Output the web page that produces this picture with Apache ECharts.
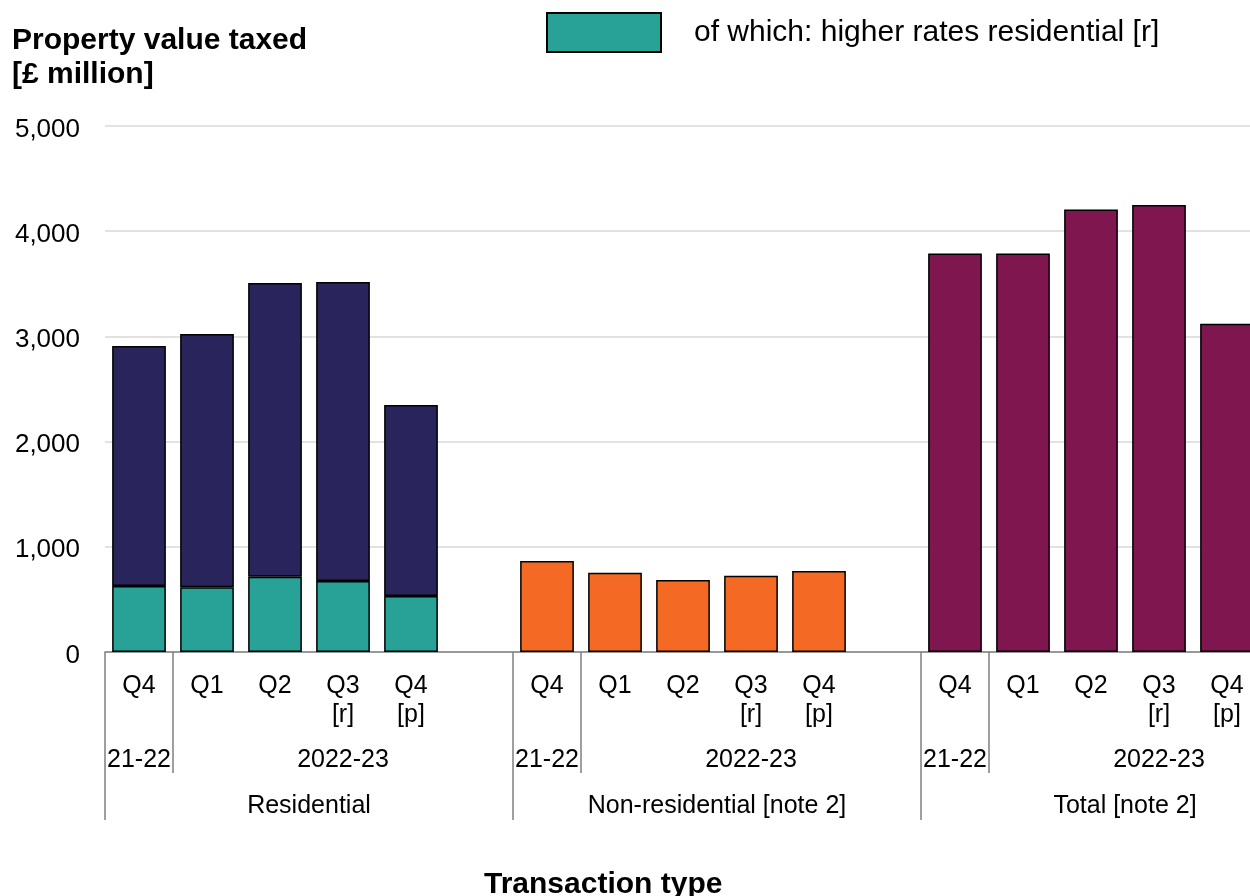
<!DOCTYPE html>
<html><head><meta charset="utf-8">
<script src="https://cdn.jsdelivr.net/npm/echarts@6/dist/echarts.min.js"></script>
<style>html,body{margin:0;padding:0;background:#fff}#c{width:1250px;height:896px}</style></head>
<body><div id="c"></div>
<script>
const quarterLabels = ['Q4', 'Q1', 'Q2', 'Q3\n[r]', 'Q4\n[p]', ''];
const groupNames = ['Residential', 'Non-residential [note 2]', 'Total [note 2]'];
const yearLabels = ['21-22', '2022-23'];
const residentialTotal = [2909, 3023, 3508, 3517, 2348];
const higherRates = [627, 615, 716, 675, 532];
const nonResidential = [865, 754, 684, 725, 770];
const totalValue = [3788, 3788, 4206, 4249, 3121];
const yMax = 5000;
const yStep = 1000;

const FONT = '"Liberation Sans", Arial, sans-serif';
const nGroups = groupNames.length;
const slotsPerGroup = quarterLabels.length;
const nSlots = nGroups * slotsPerGroup;

const categories = [];
for (let g = 0; g < nGroups; g++) quarterLabels.forEach(q => categories.push(q));

const yearCats = new Array(nSlots).fill('');
for (let g = 0; g < nGroups; g++) {
  yearCats[g * slotsPerGroup] = yearLabels[0];
  yearCats[g * slotsPerGroup + 3] = yearLabels[1];
}
const groupCats = new Array(nSlots + 1).fill('');
for (let g = 0; g < nGroups; g++) groupCats[g * slotsPerGroup + 3] = groupNames[g];

function place(values, g) {
  const out = new Array(nSlots).fill('-');
  values.forEach((v, i) => { out[g * slotsPerGroup + i] = v; });
  return out;
}
const restResidential = residentialTotal.map((v, i) => v - higherRates[i]);

const border = { borderColor: '#000', borderWidth: 1.5 };
const gray = '#808080';

const chart = echarts.init(document.getElementById('c'), null, { renderer: 'canvas' });
chart.setOption({
  animation: false,
  textStyle: { fontFamily: FONT },
  title: [
    { text: 'Property value taxed\n[£ million]', left: 12, top: 24, padding: 0,
      textStyle: { fontFamily: FONT, fontSize: 30, fontWeight: 'bold', color: '#000', lineHeight: 34 } },
    { text: 'Transaction type', left: 484, top: 870, padding: 0,
      textStyle: { fontFamily: FONT, fontSize: 30, fontWeight: 'bold', color: '#000' } }
  ],
  legend: {
    left: 546, top: 12, padding: 0, itemWidth: 114, itemHeight: 39, icon: 'rect',
    data: ['of which: higher rates residential [r]'],
    textStyle: { fontFamily: FONT, fontSize: 30, color: '#000', padding: [0, 0, 0, 28] }
  },
  grid: { left: 105, top: 126, bottom: 244, right: -79, outerBoundsMode: 'none', containLabel: false },
  xAxis: [
    { type: 'category', data: categories, position: 'bottom',
      axisLine: { lineStyle: { color: gray, width: 1.5 } },
      axisTick: { show: false },
      axisLabel: { interval: 0, fontSize: 25, lineHeight: 29, margin: 20, color: '#000', fontFamily: FONT } },
    { type: 'category', data: yearCats, position: 'bottom',
      axisLine: { show: false },
      axisTick: { show: true, length: 121, interval: (i) => i % slotsPerGroup === 1, lineStyle: { color: gray, width: 1.5 } },
      axisLabel: { interval: 0, fontSize: 25, margin: 96, color: '#000', fontFamily: FONT } },
    { type: 'category', data: groupCats, position: 'bottom', boundaryGap: false,
      axisLine: { show: false },
      axisTick: { show: true, length: 168, interval: (i) => i % slotsPerGroup === 0, lineStyle: { color: gray, width: 1.5 } },
      axisLabel: { interval: 0, fontSize: 25, margin: 142, color: '#000', fontFamily: FONT } }
  ],
  yAxis: {
    type: 'value', min: 0, max: yMax, interval: yStep,
    axisLine: { show: false }, axisTick: { show: false },
    splitLine: { lineStyle: { color: '#d9d9d9', width: 1.5 } },
    axisLabel: { fontSize: 26, margin: 25, color: '#000', fontFamily: FONT, verticalAlign: 'top', lineHeight: 7,
      formatter: v => v.toLocaleString('en-GB') }
  },
  series: [
    { name: 'of which: higher rates residential [r]', type: 'bar', stack: 'res', xAxisIndex: 0,
      data: place(higherRates, 0), barCategoryGap: '21%', barGap: '-100%',
      itemStyle: Object.assign({ color: '#28a197' }, border) },
    { name: 'Residential other', type: 'bar', stack: 'res', xAxisIndex: 0,
      data: place(restResidential, 0), barCategoryGap: '21%', barGap: '-100%',
      itemStyle: Object.assign({ color: '#29245c' }, border) },
    { name: 'Non-residential', type: 'bar', xAxisIndex: 0,
      data: place(nonResidential, 1), barCategoryGap: '21%', barGap: '-100%',
      itemStyle: Object.assign({ color: '#f46a25' }, border) },
    { name: 'Total', type: 'bar', xAxisIndex: 0,
      data: place(totalValue, 2), barCategoryGap: '21%', barGap: '-100%',
      itemStyle: Object.assign({ color: '#801650' }, border) }
  ]
});
</script></body></html>
